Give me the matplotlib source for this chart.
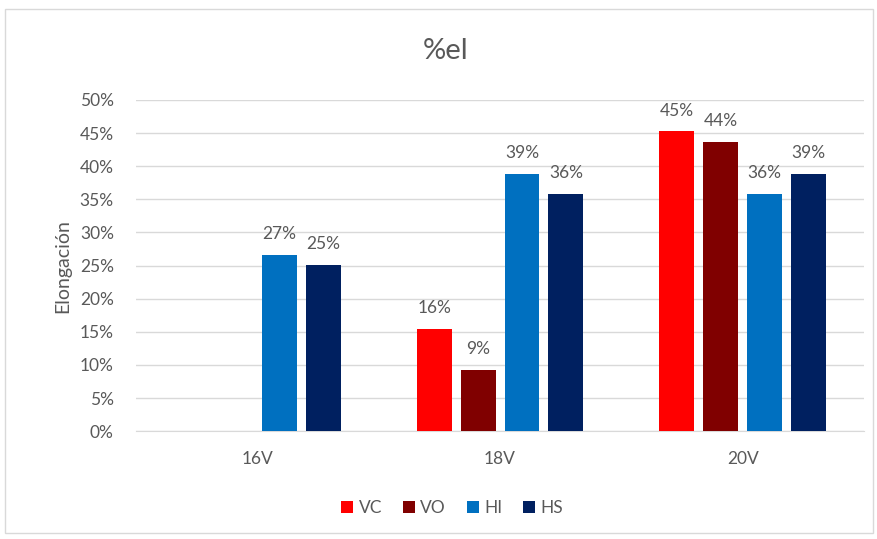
import matplotlib.pyplot as plt
import numpy as np
from matplotlib.patches import Rectangle

# datos de elongacion por voltaje
voltajes = ["16V", "18V", "20V"]
series = ["VC", "VO", "HI", "HS"]
vc = [np.nan, 15.5, 45.3]
vo = [np.nan, 9.3, 43.7]
hi = [26.6, 38.9, 35.8]
hs = [25.1, 35.8, 38.9]
colores = ["#FF0000", "#800000", "#0070C0", "#002060"]

plt.rcParams['font.family'] = ['Lato', 'DejaVu Sans']

fig = plt.figure(figsize=(8.78, 5.39), dpi=100)
fig.patches.append(Rectangle((0.006, 0.012), 0.988, 0.972, transform=fig.transFigure,
                             fill=False, edgecolor="#D9D9D9", linewidth=1))
ax = fig.add_axes([0.155, 0.2, 0.829, 0.6145])

x = np.arange(len(voltajes))
ancho = 0.144
paso = 0.181
datos = [vc, vo, hi, hs]
for i, (nombre, valores) in enumerate(zip(series, datos)):
    pos = x + (i - 1.5) * paso
    barras = ax.bar(pos, valores, ancho, color=colores[i], label=nombre, zorder=3)
    for p, v in zip(pos, valores):
        if not np.isnan(v):
            ax.text(p, v + 1.9, f"{v:.0f}%", ha="center", va="bottom",
                    fontsize=12.5, color="#595959")

ax.set_xlim(-0.5, 2.5)
ax.set_ylim(0, 50)
ax.set_yticks(range(0, 51, 5))
ax.set_yticklabels([f"{t}%" for t in range(0, 51, 5)])
ax.set_xticks(x)
ax.set_xticklabels(voltajes)
ax.grid(axis="y", color="#D9D9D9", linewidth=1, zorder=0)
for s in ["top", "right", "left"]:
    ax.spines[s].set_visible(False)
ax.spines["bottom"].set_color("#D9D9D9")
ax.tick_params(axis="both", length=0, labelsize=12.5, colors="#595959")
ax.tick_params(axis="x", pad=14)
ax.tick_params(axis="y", pad=16)
ax.set_ylabel("Elongación", fontsize=14, color="#595959", labelpad=6)

fig.text(0.508, 0.905, "%el", ha="center", va="center", fontsize=21, color="#595959")

fig.legend(loc="center", bbox_to_anchor=(0.515, 0.057), ncol=4, frameon=False,
           handlelength=0.7, handleheight=0.7, handletextpad=0.3, columnspacing=1.2,
           labelcolor="#595959", fontsize=12.5)

plt.savefig("out.png")
